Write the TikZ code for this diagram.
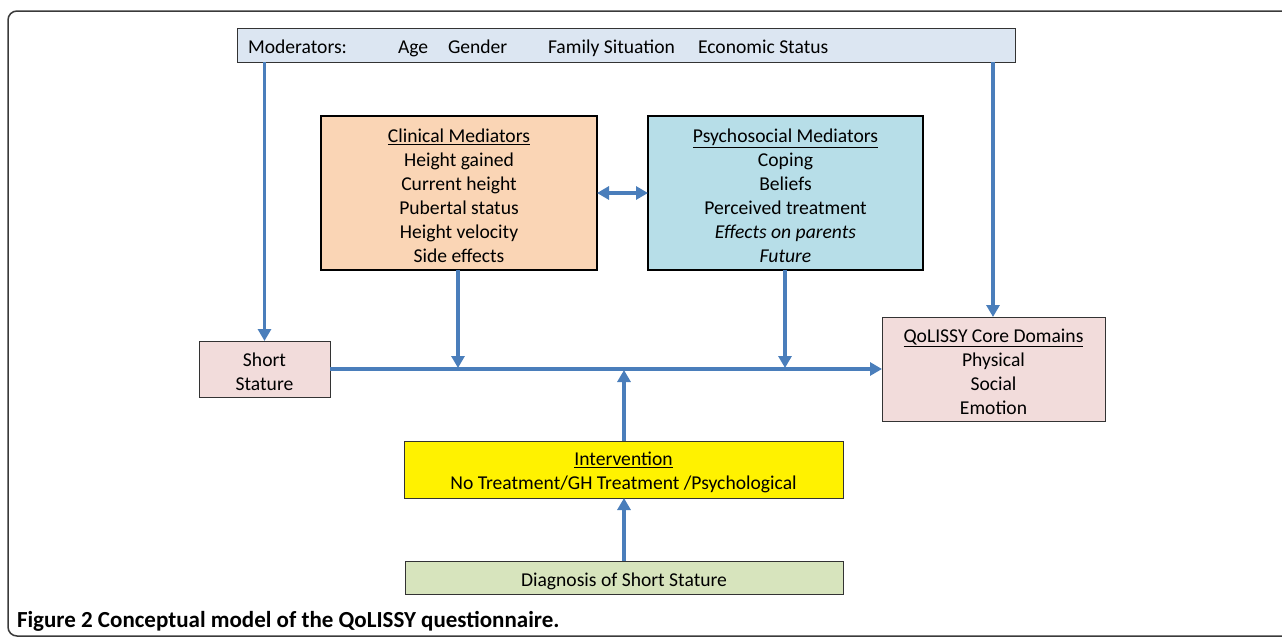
\documentclass[tikz,border=0pt]{standalone}
\usepackage{fontspec}
\setmainfont{Carlito}
\usetikzlibrary{arrows.meta}
\definecolor{arrowblue}{HTML}{4A7EBB}
\definecolor{modfill}{HTML}{DCE6F2}
\definecolor{clinfill}{HTML}{FAD5B5}
\definecolor{psyfill}{HTML}{B7DEE8}
\definecolor{pinkfill}{HTML}{F2DCDB}
\definecolor{diagfill}{HTML}{D7E4BD}
\definecolor{framegrey}{HTML}{3A3A3A}
\begin{document}
\begin{tikzpicture}[x=1pt,y=-1pt,
  every node/.style={inner sep=0pt,outer sep=0pt,font=\fontsize{19.6}{24}\selectfont},
  thinbox/.style={draw=black!80,line width=0.9pt},
  thickbox/.style={draw=black,line width=2.6pt},
  txt/.style={align=center,yshift=-3pt},
  conn/.style={draw=arrowblue,line width=3.6pt,-{Triangle[length=12pt,width=13pt]}},
  dconn/.style={draw=arrowblue,line width=3.6pt,{Triangle[length=12pt,width=13pt]}-{Triangle[length=12pt,width=13pt]}},
  lbl/.style={anchor=base west}]
\useasboundingbox (0,0) rectangle (1282,637);
\draw[framegrey,line width=1.5pt,rounded corners=9pt] (8,11) rectangle (1300,636);

% moderators bar
\node[thinbox,fill=modfill,minimum width=778pt,minimum height=34pt] (mod) at (626,45) {};
\node[lbl] (modl) at (248,53) {Moderators:};
\node[lbl] (age) at (398,53) {Age};
\node[lbl] (gender) at (448,53) {Gender};
\node[lbl] (family) at (548,53) {Family Situation};
\node[lbl] (econ) at (698,53) {Economic Status};

% mediators
\node[thickbox,fill=clinfill,minimum width=276pt,minimum height=154pt] (clin) at (459,193) {};
\node[txt] (clint) at (clin)
  {\underline{Clinical Mediators}\\Height gained\\Current height\\Pubertal status\\Height velocity\\Side effects};
\node[thickbox,fill=psyfill,minimum width=275pt,minimum height=154pt] (psy) at (785.5,193) {};
\node[txt] (psyt) at (psy)
  {\underline{Psychosocial Mediators}\\Coping\\Beliefs\\Perceived treatment\\\textit{Effects on parents}\\\textit{Future}};

% short stature and outcome
\node[thinbox,fill=pinkfill,minimum width=131pt,minimum height=56pt] (ss) at (264.5,369) {};
\node[txt] (sst) at (ss) {Short\\Stature};
\node[thinbox,fill=pinkfill,minimum width=223pt,minimum height=104pt] (qol) at (993.5,369) {};
\node[txt] (qolt) at (qol) {\underline{QoLISSY Core Domains}\\Physical\\Social\\Emotion};

% intervention and diagnosis
\node[thinbox,fill=yellow,minimum width=439pt,minimum height=57pt] (int) at (623.5,469.5) {};
\node[txt] (intt) at (int) {\underline{Intervention}\\No Treatment/GH Treatment /Psychological};
\node[thinbox,fill=diagfill,minimum width=438pt,minimum height=33pt] (diag) at (624,577.5) {};
\node[txt,yshift=-1pt] (diagt) at (diag) {Diagnosis of Short Stature};

% coordinates on main line
\coordinate (mc) at (458,368);
\coordinate (mp) at (785,368);
\coordinate (mi) at (624,370);

% connectors
\draw[conn] (mod.south -| ss.north) -- (ss.north);
\draw[conn] (993,62) -- (qol.north -| 993,0);
\draw[conn] (ss.east) -- (qol.west);
\draw[conn] (clin.south -| mc) -- (mc);
\draw[conn] (psy.south -| mp) -- (mp);
\draw[conn] (int.north -| mi) -- (mi);
\draw[conn] (diag.north -| mi) -- (int.south -| mi);
\draw[dconn] (clin.east) -- (psy.west);

% caption
\node[anchor=base west,font=\fontsize{23}{26}\selectfont] (cap) at (17,627) {\textbf{Figure 2 Conceptual model of the QoLISSY questionnaire.}};
\end{tikzpicture}
\end{document}
